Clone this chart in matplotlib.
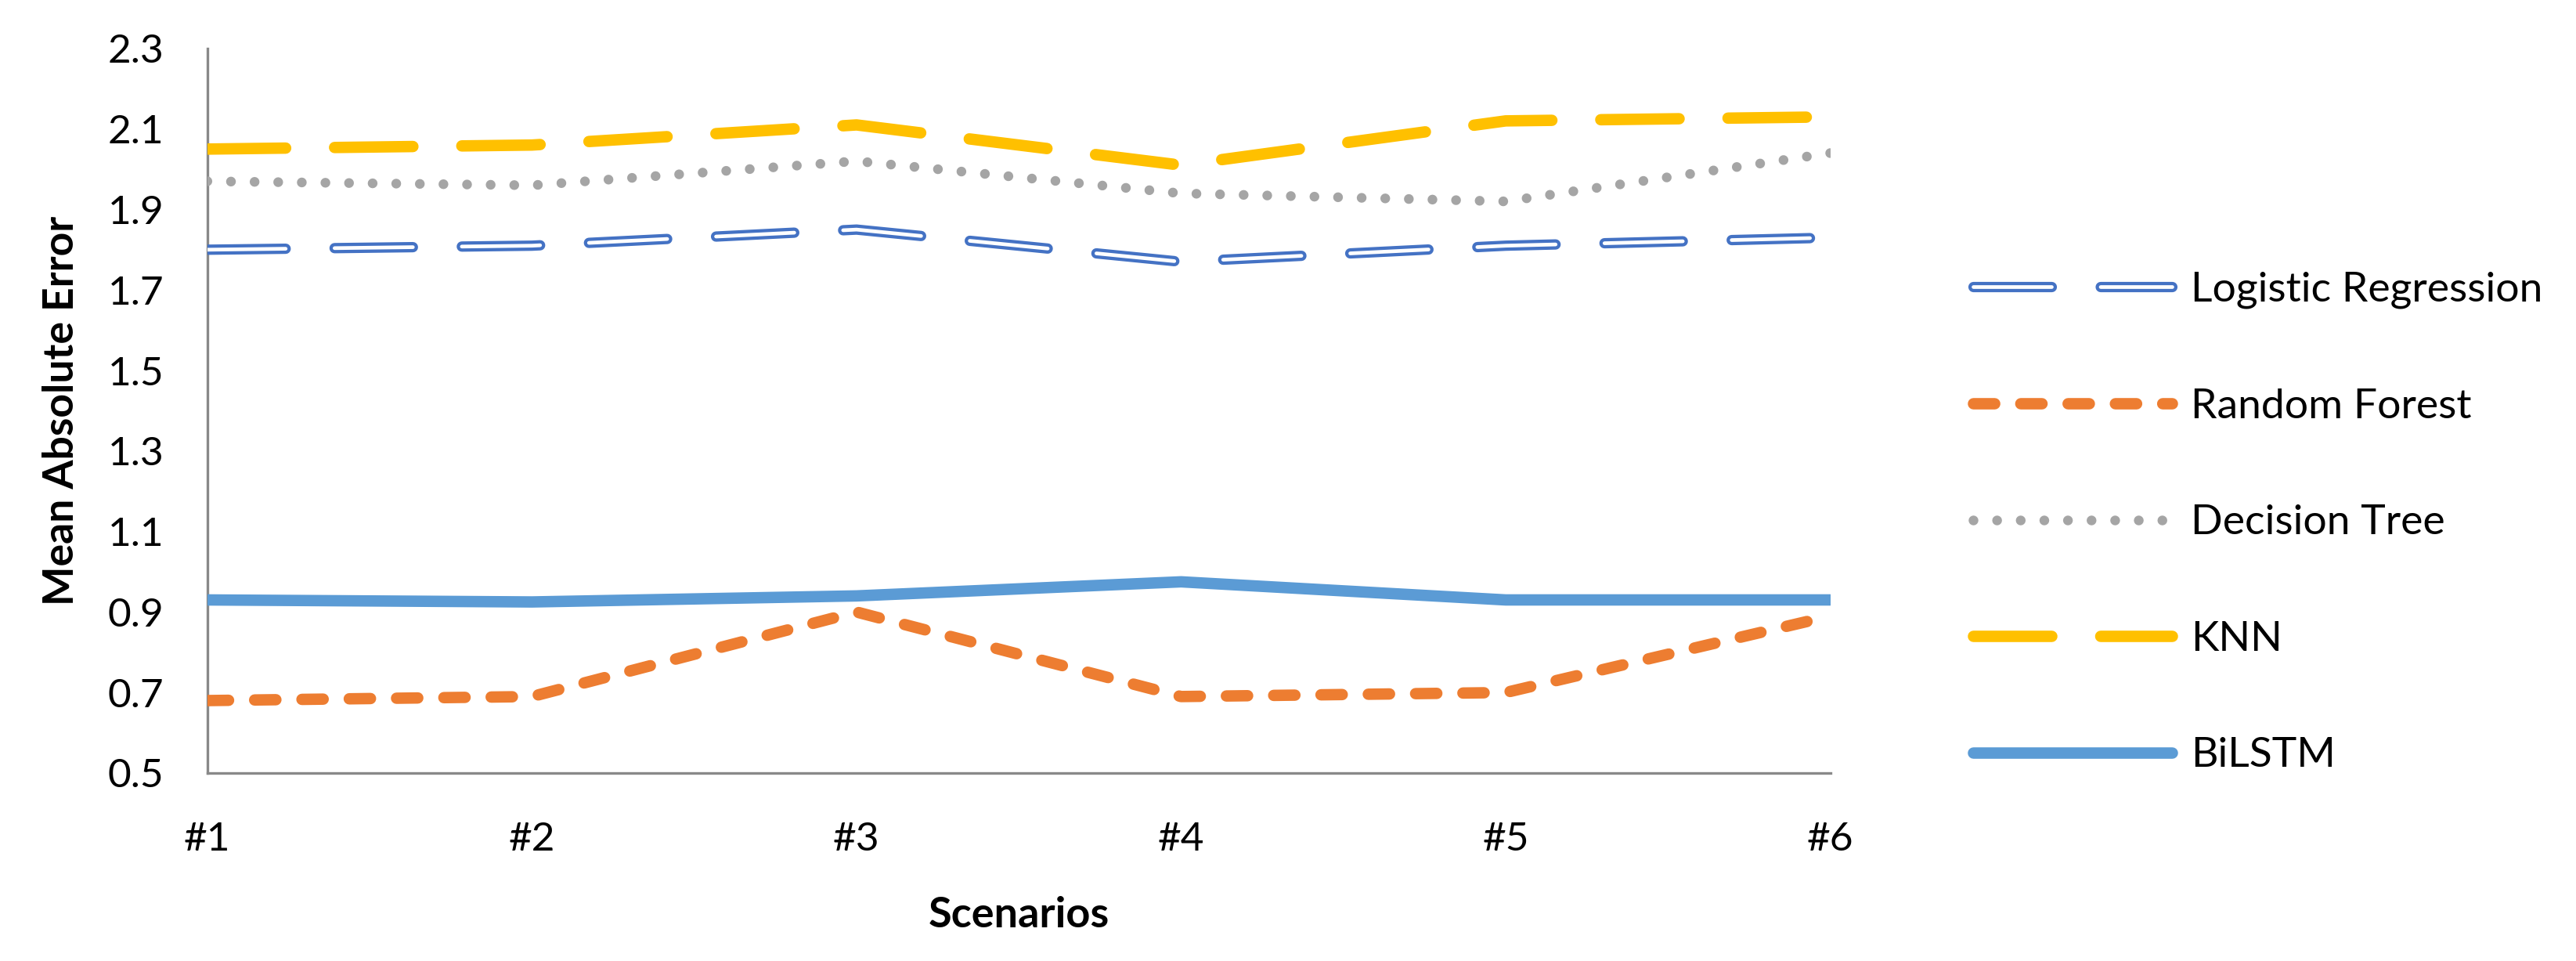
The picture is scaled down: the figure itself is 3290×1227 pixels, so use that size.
import matplotlib
matplotlib.use("Agg")
import matplotlib.pyplot as plt
from matplotlib.legend_handler import HandlerTuple

plt.rcParams['font.family'] = ['Lato', 'DejaVu Sans']
plt.rcParams['lines.scale_dashes'] = False

# data
scenarios = ["#1", "#2", "#3", "#4", "#5", "#6"]
logistic = [1.80, 1.81, 1.85, 1.77, 1.81, 1.83]
random_forest = [0.68, 0.69, 0.90, 0.69, 0.70, 0.89]
decision_tree = [1.97, 1.96, 2.02, 1.94, 1.92, 2.04]
knn = [2.05, 2.06, 2.11, 2.01, 2.12, 2.13]
bilstm = [0.93, 0.925, 0.94, 0.975, 0.93, 0.93]
y_ticks = [0.5, 0.7, 0.9, 1.1, 1.3, 1.5, 1.7, 1.9, 2.1, 2.3]

fig = plt.figure(figsize=(32.9, 12.27), dpi=100)
ax = fig.add_axes([0.0805, 0.1956, 0.630, 0.754])
x = range(len(scenarios))

long_dash = (72, 45)

# logistic regression: double (outlined) long dash
lr_out, = ax.plot(x, logistic, color="#4472C4", lw=9.5, dash_capstyle="round",
                  dashes=long_dash, zorder=3)
lr_in, = ax.plot(x, logistic, color="white", lw=3.4, dash_capstyle="round",
                 dashes=long_dash, zorder=4)
rf, = ax.plot(x, random_forest, color="#ED7D31", lw=10.5, dash_capstyle="round",
              dashes=(19.5, 24), zorder=3)
dt, = ax.plot(x, decision_tree, color="#A5A5A5", lw=9, dash_capstyle="round",
              dashes=(0.01, 21.7), zorder=3)
kn, = ax.plot(x, knn, color="#FFC000", lw=10.5, dash_capstyle="round",
              dashes=long_dash, zorder=3)
bl, = ax.plot(x, bilstm, color="#5B9BD5", lw=10.5, solid_capstyle="round", zorder=3)

ax.set_xlim(0, 5)
ax.set_ylim(0.5, 2.3)
ax.set_xticks(list(x))
ax.set_xticklabels(scenarios)
ax.set_yticks(y_ticks)
ax.set_yticklabels([f"{v:.1f}" for v in y_ticks])
ax.tick_params(length=0, labelsize=37)
ax.tick_params(axis="y", pad=40)
ax.tick_params(axis="x", pad=45)
for s in ["top", "right"]:
    ax.spines[s].set_visible(False)
for s in ["left", "bottom"]:
    ax.spines[s].set_color("#898989")
    ax.spines[s].set_linewidth(2.4)

ax.set_ylabel("Mean Absolute Error", fontsize=38.5, fontweight="bold", labelpad=25)
ax.set_xlabel("Scenarios", fontsize=39, fontweight="bold", labelpad=35)

leg = fig.legend([(lr_out, lr_in), rf, dt, kn, bl],
                 ["Logistic Regression", "Random Forest", "Decision Tree", "KNN", "BiLSTM"],
                 handler_map={tuple: HandlerTuple(ndivide=1, pad=0)},
                 loc="center left", bbox_to_anchor=(0.766, 0.456), frameon=False,
                 fontsize=38.5, handlelength=4.75, labelspacing=1.9, handletextpad=0.45,
                 borderpad=0, borderaxespad=0)

fig.savefig("out.png", dpi=100)
